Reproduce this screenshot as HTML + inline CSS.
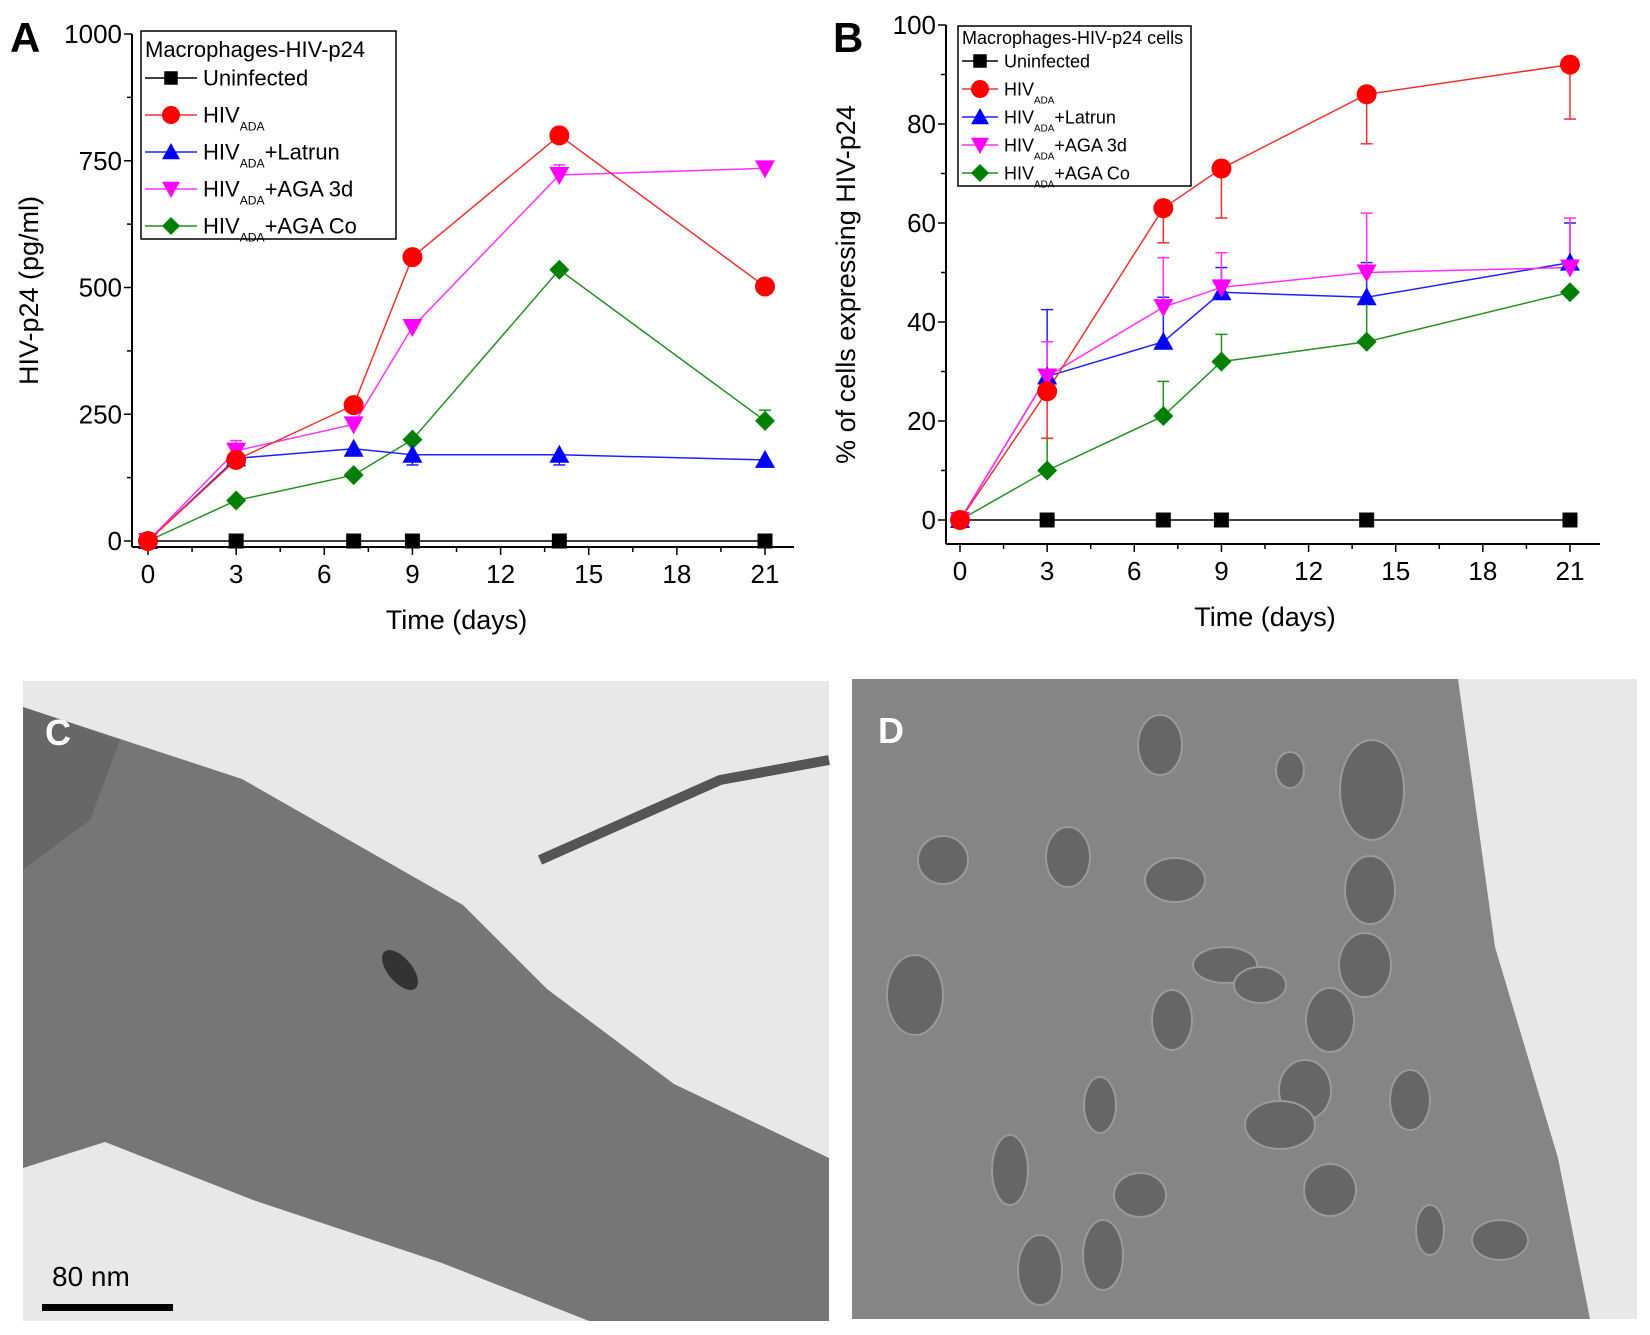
<!DOCTYPE html><html><head><meta charset="utf-8"><style>body{margin:0;background:#fff}svg{display:block}text{font-family:"Liberation Sans",sans-serif}</style></head><body>
<svg id="s" width="1650" height="1335" viewBox="0 0 1650 1335" xmlns="http://www.w3.org/2000/svg">
<rect width="1650" height="1335" fill="#fff"/>
<!-- Photo C -->
<rect x="23" y="681" width="806" height="640" fill="#e8e8e8"/>
<polygon points="23,707 242,779 463,905 547,989 674,1084 829,1158 829,1321 589,1321 442,1263 253,1200 105,1142 23,1168" fill="#767676"/>
<polygon points="23,707 120,740 90,820 23,870" fill="#5e5e5e" opacity="0.6"/>
<path d="M540,860 L720,780 L829,760" stroke="#555" stroke-width="10" fill="none"/>
<ellipse cx="400" cy="970" rx="12" ry="24" transform="rotate(-40 400 970)" fill="#333"/>
<text x="45" y="745" font-size="36" font-weight="bold" fill="#fff">C</text>
<text x="52" y="1286" font-size="28" fill="#000">80 nm</text>
<rect x="42" y="1304" width="131" height="7" fill="#000"/>
<!-- Photo D -->
<rect x="852" y="679" width="785" height="640" fill="#e8e8e8"/>
<polygon points="852,679 1458,679 1495,947 1558,1158 1590,1319 852,1319" fill="#858585"/>
<g fill="#666" stroke="#9a9a9a" stroke-width="2" id="blobs"></g>
<text x="878" y="743" font-size="36" font-weight="bold" fill="#fff">D</text>
<g id="g"></g>
</svg>
<script>
const NS="http://www.w3.org/2000/svg",g=document.getElementById('g');
function el(t,a,p){const e=document.createElementNS(NS,t);for(const k in a)e.setAttribute(k,a[k]);(p||g).appendChild(e);return e}
function tx(x,y,s,sz,anc,extra){const e=el('text',Object.assign({x,y,'font-size':sz,'text-anchor':anc||'start'},extra||{}));e.innerHTML=s;return e}
const bl=document.getElementById('blobs');
[[1160,745,22,30],[1290,770,14,18],[1372,790,32,50],[943,860,25,24],[1068,857,22,30],[1175,880,30,22],[1370,890,25,34],[1225,965,32,18],[1365,965,26,32],[1260,985,26,18],[1330,1020,24,32],[1172,1020,20,30],[1305,1090,26,30],[1280,1125,35,24],[1100,1105,16,28],[1410,1100,20,30],[1010,1170,18,35],[1140,1195,26,22],[1330,1190,26,26],[1103,1255,20,35],[1040,1270,22,35],[915,995,28,40],[1500,1240,28,20],[1430,1230,14,25]].forEach(b=>el('ellipse',{cx:b[0],cy:b[1],rx:b[2],ry:b[3]},bl));
const cols={u:'#000',h:'#ff0000',l:'#0000ff',a:'#ff00ff',c:'#008000'};
const lc={u:'#000',h:'#f03030',l:'#2020ff',a:'#ff30ff',c:'#209020'};
function marker(k,x,y,s){
 const c=cols[k];
 if(k=='u')el('rect',{x:x-s*0.75,y:y-s*0.75,width:s*1.5,height:s*1.5,fill:c});
 if(k=='h')el('circle',{cx:x,cy:y,r:s,fill:c});
 if(k=='l')el('polygon',{points:`${x},${y-s} ${x-s},${y+s*0.8} ${x+s},${y+s*0.8}`,fill:c});
 if(k=='a')el('polygon',{points:`${x},${y+s} ${x-s},${y-s*0.8} ${x+s},${y-s*0.8}`,fill:c});
 if(k=='c')el('polygon',{points:`${x},${y-s} ${x+s},${y} ${x},${y+s} ${x-s},${y}`,fill:c});
}
const days=[0,3,7,9,14,21];
function panel(P){
 const X=d=>P.x0+(P.x1-P.x0)*d/21, Y=v=>P.y0+(P.y1-P.y0)*v/P.ymax;
 el('line',{x1:P.ax,y1:P.top,x2:P.ax,y2:P.bot,stroke:'#000','stroke-width':2});
 el('line',{x1:P.ax,y1:P.bot,x2:P.right,y2:P.bot,stroke:'#000','stroke-width':2});
 for(let d=0;d<=21;d+=1.5){const big=d%3==0;el('line',{x1:X(d),y1:P.bot,x2:X(d),y2:P.bot+(big?8:5),stroke:'#000','stroke-width':1.5});if(big)tx(X(d),P.bot+36,d,26,'middle');}
 P.yt.forEach((v,i)=>{el('line',{x1:P.ax,y1:Y(v),x2:P.ax-8,y2:Y(v),stroke:'#000','stroke-width':1.5});tx(P.ax-10,Y(v)+9,v,26,'end');
   if(i<P.yt.length-1){const m=(v+P.yt[i+1])/2;el('line',{x1:P.ax,y1:Y(m),x2:P.ax-5,y2:Y(m),stroke:'#000','stroke-width':1.5});}});
 tx((P.x0+P.x1)/2,P.bot+82,'Time (days)',27,'middle');
 tx(0,0,P.ylab,27,'middle',{transform:`translate(${P.ylx},${(P.top+P.bot)/2}) rotate(-90)`});
 tx(P.lx,P.ly,P.letter,42,'start',{'font-weight':'bold'});
 for(const k of ['u','c','l','a','h']){
  const d=P.data[k];
  if(P.err&&P.err[k])P.err[k].forEach((e,i)=>{if(e==null)return;const x=X(days[i]);el('line',{x1:x,y1:Y(d[i]),x2:x,y2:Y(e),stroke:lc[k],'stroke-width':1.5});el('line',{x1:x-6,y1:Y(e),x2:x+6,y2:Y(e),stroke:lc[k],'stroke-width':1.5});});
  el('polyline',{points:d.map((v,i)=>X(days[i])+','+Y(v)).join(' '),fill:'none',stroke:lc[k],'stroke-width':1.5});
 }
 for(const k of ['u','c','l','a','h']){P.data[k].forEach((v,i)=>marker(k,X(days[i]),Y(v),P.ms));}
 const L=P.leg;el('rect',{x:L.x,y:L.y,width:L.w,height:L.h,fill:'#fff',stroke:'#000','stroke-width':1.5});
 tx(L.x+4,L.y+L.t0,L.title,L.fs);
 const sub='<tspan font-size="'+(L.fs*0.55)+'" dy="8">ADA</tspan>';
 const names=[['u','Uninfected'],['h','HIV'+sub],['l','HIV'+sub+'<tspan dy="-8">+Latrun</tspan>'],['a','HIV'+sub+'<tspan dy="-8">+AGA 3d</tspan>'],['c','HIV'+sub+'<tspan dy="-8">+AGA Co</tspan>']];
 names.forEach((n,i)=>{const y=L.y+L.r0+i*L.dy;el('line',{x1:L.x+4,y1:y,x2:L.x+L.lw,y2:y,stroke:lc[n[0]],'stroke-width':1.5});marker(n[0],L.x+4+(L.lw-4)/2,y,P.ms*0.9);tx(L.x+L.lw+6,y+L.fs*0.35,n[1],L.fs);});
}
panel({x0:148,x1:765,y0:541,y1:34,ymax:1000,ax:132,top:34,bot:547,right:794,yt:[0,250,500,750,1000],ylab:'HIV-p24 (pg/ml)',ylx:38,letter:'A',lx:10,ly:52,ms:10,
 data:{u:[0,0,0,0,0,0],h:[0,160,268,560,800,502],l:[0,163,182,170,170,160],a:[0,178,230,422,722,735],c:[0,80,130,200,535,237]},
 err:{a:[null,198,null,null,742,null],l:[null,null,null,150,150,null],c:[null,null,null,null,null,258]},
 leg:{x:141,y:31,w:255,h:208,title:'Macrophages-HIV-p24',fs:22,t0:26,r0:47,dy:37,lw:56}});
panel({x0:960,x1:1570,y0:520,y1:25,ymax:100,ax:946,top:25,bot:544,right:1600,yt:[0,20,40,60,80,100],ylab:'% of cells expressing HIV-p24',ylx:855,letter:'B',lx:833,ly:52,ms:10,
 data:{u:[0,0,0,0,0,0],h:[0,26,63,71,86,92],l:[0,29,36,46,45,52],a:[0,29,43,47,50,51],c:[0,10,21,32,36,46]},
 err:{h:[null,16.5,56,61,76,81],l:[null,42.5,45,51,52,60],a:[null,36,53,54,62,61],c:[null,16.5,28,37.5,44,null]},
 leg:{x:958,y:26,w:233,h:160,title:'Macrophages-HIV-p24 cells',fs:18,t0:18,r0:35,dy:28,lw:40}});
</script>
</body></html>
